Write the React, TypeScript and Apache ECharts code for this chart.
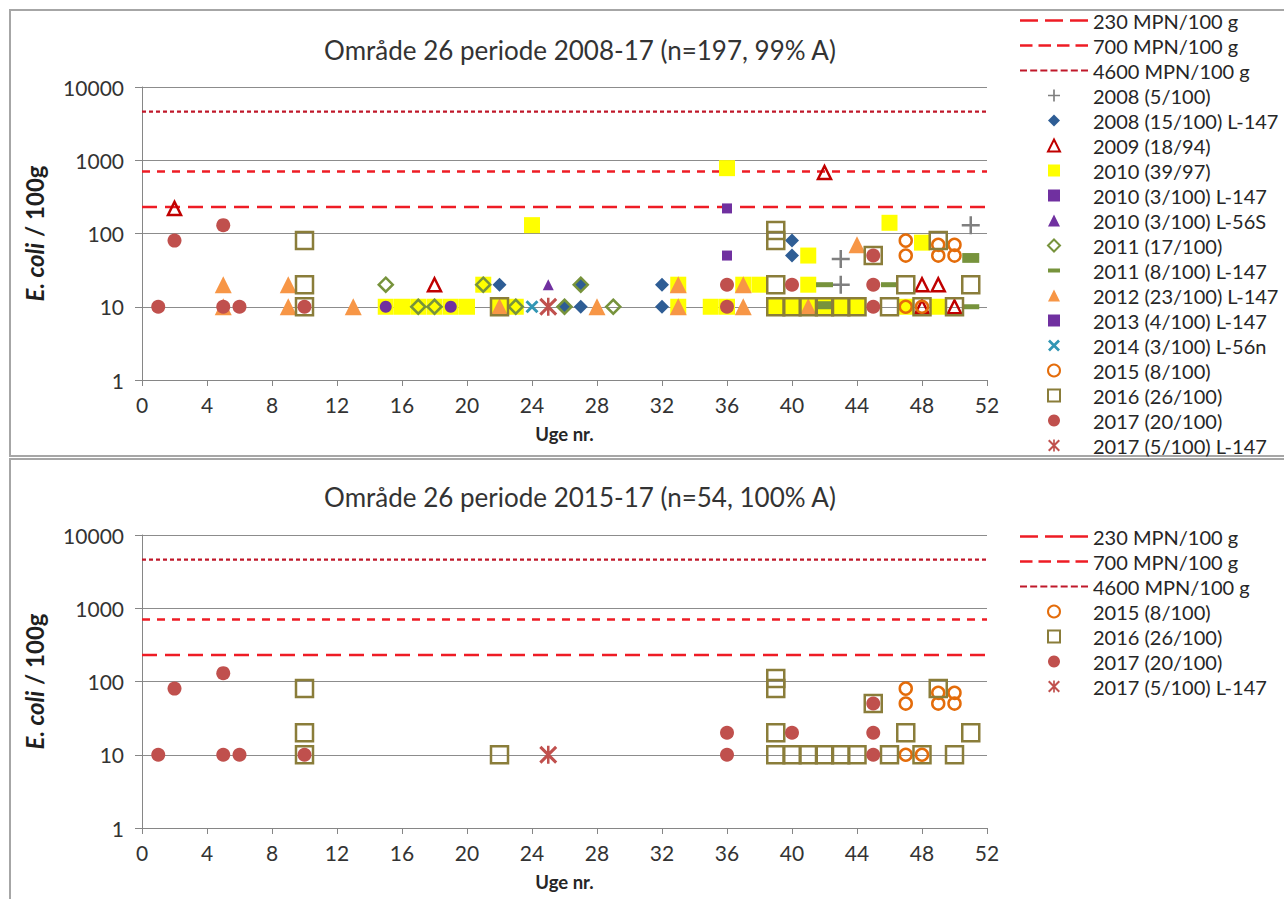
import React, { useEffect, useRef } from 'react';
import * as echarts from 'echarts';

const FONT = 'Lato';

// ---------- data ----------
const thresholdNames = ['230 MPN/100 g', '700 MPN/100 g', '4600 MPN/100 g'];
const thresholdValues = [230, 700, 4600];

const s2008 = [[43, 45], [43, 20], [51, 130]];
const s2008L147 = [[22, 20], [26, 10], [27, 20], [27, 10], [32, 20], [32, 10], [40, 80], [40, 50]];
const s2009 = [[2, 220], [18, 20], [42, 680], [48, 20], [49, 20], [48, 10], [50, 10]];
const s2010 = [[15, 10], [16, 10], [17, 10], [18, 10], [19, 10], [20, 10], [21, 20], [22, 10], [23, 10], [24, 130],
  [33, 20], [33, 10], [35, 10], [36, 10], [36, 780], [37, 20], [38, 20], [39, 10], [40, 10], [41, 10], [42, 10],
  [43, 10], [44, 10], [41, 50], [41, 20], [46, 140], [48, 75], [47, 10], [49, 10]];
const s2010L147 = [[36, 220], [36, 50]];
const s2010L56S = [[25, 20]];
const s2011 = [[15, 20], [17, 10], [18, 10], [21, 20], [23, 10], [26, 10], [27, 20], [29, 10]];
const s2011L147 = [[42, 20], [42, 10], [42, 11], [46, 20], [51, 50], [51, 43], [51, 10]];
const s2012L147 = [[5, 20], [5, 10], [9, 20], [9, 10], [13, 10], [22, 10], [28, 10], [33, 20], [33, 10], [37, 20],
  [37, 10], [41, 10], [44, 70]];
const s2013L147 = [[15, 10], [19, 10]];
const s2014L56n = [[24, 10]];
const s2015 = [[47, 80], [47, 50], [47, 10], [48, 10], [49, 70], [49, 50], [50, 70], [50, 50]];
const s2016 = [[10, 80], [10, 20], [10, 10], [22, 10], [39, 110], [39, 80], [39, 20], [39, 10], [40, 10], [41, 10],
  [42, 10], [43, 10], [44, 10], [45, 50], [46, 10], [47, 20], [48, 10], [49, 80], [50, 10], [51, 20]];
const s2017 = [[1, 10], [2, 80], [5, 130], [5, 10], [6, 10], [10, 10], [36, 20], [36, 10], [40, 20], [45, 50],
  [45, 20], [45, 10]];
const s2017L147 = [[25, 10]];

const titleTop = 'Område 26 periode 2008-17 (n=197, 99% A)';
const titleBottom = 'Område 26 periode 2015-17 (n=54, 100% A)';

// ---------- symbols ----------
const PLUS = 'path://M4.3,0H5.7V4.3H10V5.7H5.7V10H4.3V5.7H0V4.3H4.3Z';
const XMARK = 'path://M0,1.6L1.6,0L10,8.4L8.4,10Z M8.4,0L10,1.6L1.6,10L0,8.4Z';
const STAR = 'path://M0,1.2L1.2,0L10,8.8L8.8,10Z M8.8,0L10,1.2L1.2,10L0,8.8Z M4.3,0H5.7V10H4.3Z';
const SQUARE = 'path://M0,0H10V10H0Z';
const DIAMOND = 'path://M5,0L10,5L5,10L0,5Z';
const TRIANGLE = 'path://M5,0L10,10H0Z';
const DASH = 'path://M0,0H10V3.5H0Z';
const DASH_ICON = 'path://M0,0H0.01V0.01H0Z M9.99,9.99H10V10H9.99Z M0,3.3H10V6.7H0Z';

// legend icon for a dashed line: n dashes across a 68x12 box
function dashIcon(n: number, dash: number, thick: number) {
  const W = 68, H = 12;
  const gap = n > 1 ? (W - n * dash) / (n - 1) : 0;
  const y0 = (H - thick) / 2, y1 = (H + thick) / 2;
  let d = `M0,0H0.01V0.01H0Z M${W - 0.01},${H - 0.01}H${W}V${H}H${W - 0.01}Z`;
  for (let i = 0; i < n; i++) {
    const x0 = i * (dash + gap);
    d += ` M${x0.toFixed(2)},${y0}H${(x0 + dash).toFixed(2)}V${y1}H${x0.toFixed(2)}Z`;
  }
  return 'path://' + d;
}

const lineStyles = [
  { color: '#ee1c25', width: 2.5, type: [15, 8] },
  { color: '#ee1c25', width: 2.5, type: [8, 7] },
  { color: '#c0182a', width: 2.2, type: [4, 3] },
];
const lineIcons = [dashIcon(3, 18, 2.6), dashIcon(4, 12.5, 2.6), dashIcon(7, 7, 2.2)];

type Def = {
  name: string; data: number[][]; symbol: string; size: any; icon: string;
  fill: string; border?: string; bw?: number;
};

const defs: Def[] = [
  { name: '2008 (5/100)', data: s2008, symbol: PLUS, size: 18, icon: PLUS, fill: '#7f7f7f' },
  { name: '2008 (15/100) L-147', data: s2008L147, symbol: DIAMOND, size: 14, icon: DIAMOND, fill: '#2e5d95' },
  { name: '2009 (18/94)', data: s2009, symbol: TRIANGLE, size: 13, icon: TRIANGLE, fill: 'rgba(0,0,0,0)', border: '#c00000', bw: 2.5 },
  { name: '2010 (39/97)', data: s2010, symbol: SQUARE, size: 16, icon: SQUARE, fill: '#ffff00' },
  { name: '2010 (3/100) L-147', data: s2010L147, symbol: SQUARE, size: 10, icon: SQUARE, fill: '#7030a0' },
  { name: '2010 (3/100) L-56S', data: s2010L56S, symbol: TRIANGLE, size: 11, icon: TRIANGLE, fill: '#7030a0' },
  { name: '2011 (17/100)', data: s2011, symbol: DIAMOND, size: 14, icon: DIAMOND, fill: 'rgba(0,0,0,0)', border: '#77933c', bw: 2.5 },
  { name: '2011 (8/100) L-147', data: s2011L147, symbol: DASH, size: [17, 5], icon: DASH_ICON, fill: '#77933c' },
  { name: '2012 (23/100) L-147', data: s2012L147, symbol: TRIANGLE, size: 17, icon: TRIANGLE, fill: '#f79646' },
  { name: '2013 (4/100) L-147', data: s2013L147, symbol: 'circle', size: 12, icon: SQUARE, fill: '#7030a0' },
  { name: '2014 (3/100) L-56n', data: s2014L56n, symbol: XMARK, size: 13, icon: XMARK, fill: '#3296b4' },
  { name: '2015 (8/100)', data: s2015, symbol: 'circle', size: 12, icon: 'circle', fill: 'rgba(0,0,0,0)', border: '#e46c0a', bw: 2.5 },
  { name: '2016 (26/100)', data: s2016, symbol: SQUARE, size: 17, icon: SQUARE, fill: 'rgba(0,0,0,0)', border: '#8a7d3a', bw: 2.5 },
  { name: '2017 (20/100)', data: s2017, symbol: 'circle', size: 14, icon: 'circle', fill: '#c0504d' },
  { name: '2017 (5/100) L-147', data: s2017L147, symbol: STAR, size: 18, icon: STAR, fill: '#c0504d' },
];

const bottomNames = ['2015 (8/100)', '2016 (26/100)', '2017 (20/100)', '2017 (5/100) L-147'];

function buildOption() {
  const grids = [
    { left: 142, top: 87, width: 845, height: 293 },
    { left: 142, top: 535, width: 845, height: 293 },
  ];
  const xAxes = grids.map((_, i) => ({
    type: 'value', gridIndex: i, min: 0, max: 52, interval: 4,
    axisLine: { show: true, lineStyle: { color: '#868686', width: 1 } },
    axisTick: { show: true, length: 6, lineStyle: { color: '#868686' } },
    splitLine: { show: false },
    axisLabel: { fontSize: 21, color: '#333333', margin: 14, fontFamily: FONT },
    name: 'Uge nr.', nameLocation: 'middle', nameGap: 44,
    nameTextStyle: { fontWeight: 'bold', fontSize: 18.5, color: '#262626', fontFamily: FONT },
  }));
  const yAxes = grids.map((_, i) => ({
    type: 'log', logBase: 10, gridIndex: i, min: 1, max: 10000,
    axisLine: { show: true, lineStyle: { color: '#868686', width: 1 } },
    axisTick: { show: true, length: 7, lineStyle: { color: '#868686' } },
    minorTick: { show: false },
    splitLine: { show: true, lineStyle: { color: '#8c8c8c', width: 1 } },
    axisLabel: {
      fontSize: 21, color: '#333333', margin: 18, fontFamily: FONT,
      formatter: (v: number) => String(Math.round(v)),
    },
    name: '{it|E. coli} / 100g', nameLocation: 'middle', nameRotate: 90, nameGap: 96,
    nameTextStyle: {
      fontWeight: 'bold', fontSize: 24, color: '#1f1f1f', fontFamily: FONT,
      rich: { it: { fontStyle: 'italic', fontWeight: 'bold', fontSize: 24, color: '#1f1f1f', fontFamily: FONT } },
    },
  }));

  const series: any[] = [];
  [0, 1].forEach((g) => {
    thresholdValues.forEach((v, k) => {
      series.push({
        type: 'line', name: thresholdNames[k], xAxisIndex: g, yAxisIndex: g,
        data: [[0, v], [52, v]], symbol: 'none', silent: true, z: 1,
        lineStyle: lineStyles[k], itemStyle: { color: lineStyles[k].color },
      });
    });
    defs.forEach((d) => {
      if (g === 1 && bottomNames.indexOf(d.name) < 0) return;
      series.push({
        type: 'scatter', name: d.name, xAxisIndex: g, yAxisIndex: g, data: d.data,
        symbol: d.symbol, symbolSize: d.size, z: 3,
        itemStyle: {
          color: d.fill, borderColor: d.border || d.fill, borderWidth: d.border ? d.bw : 0, opacity: 1,
        },
      });
    });
  });

  const legendItem = (d: Def) => ({
    name: d.name, icon: d.icon,
    itemStyle: { color: d.fill, borderColor: d.border || d.fill, borderWidth: d.border ? 2 : 0 },
  });
  const lineItems = thresholdNames.map((n, k) => ({
    name: n, icon: lineIcons[k],
    itemStyle: { color: lineStyles[k].color, borderWidth: 0, opacity: 1 },
    lineStyle: { width: 0, opacity: 0 },
  }));
  const legendBase = {
    orient: 'vertical', left: 1015, itemWidth: 68, itemHeight: 12, itemGap: 0, selectedMode: false,
    textStyle: { fontSize: 20, lineHeight: 25, color: '#262626', fontFamily: FONT },
  };
  const legends = [
    { ...legendBase, top: 3, data: [...lineItems, ...defs.map(legendItem)] },
    { ...legendBase, top: 519, data: [...lineItems, ...defs.filter((d) => bottomNames.indexOf(d.name) >= 0).map(legendItem)] },
  ];

  return {
    animation: false,
    backgroundColor: '#ffffff',
    grid: grids,
    xAxis: xAxes,
    yAxis: yAxes,
    legend: legends,
    series,
    graphic: [
      { type: 'rect', shape: { x: 10, y: 10, width: 1290, height: 446 }, style: { fill: 'none', stroke: '#a6a6a6', lineWidth: 2 }, silent: true },
      { type: 'rect', shape: { x: 10, y: 459, width: 1290, height: 460 }, style: { fill: 'none', stroke: '#a6a6a6', lineWidth: 2 }, silent: true },
      { type: 'text', x: 580, y: 50, style: { text: titleTop, fill: '#333333', font: `26px ${FONT}`, align: 'center', verticalAlign: 'middle' } },
      { type: 'text', x: 580, y: 497, style: { text: titleBottom, fill: '#333333', font: `26px ${FONT}`, align: 'center', verticalAlign: 'middle' } },
    ],
  };
}

export default function App() {
  const ref = useRef<HTMLDivElement>(null);
  useEffect(() => {
    if (!ref.current) return;
    const chart = echarts.init(ref.current, null, { renderer: 'svg' });
    chart.setOption(buildOption() as any);
    return () => chart.dispose();
  }, []);
  return (
    <div
      ref={ref}
      style={{ position: 'absolute', left: 0, top: 0, width: 1284, height: 899, background: '#fff' }}
    />
  );
}
